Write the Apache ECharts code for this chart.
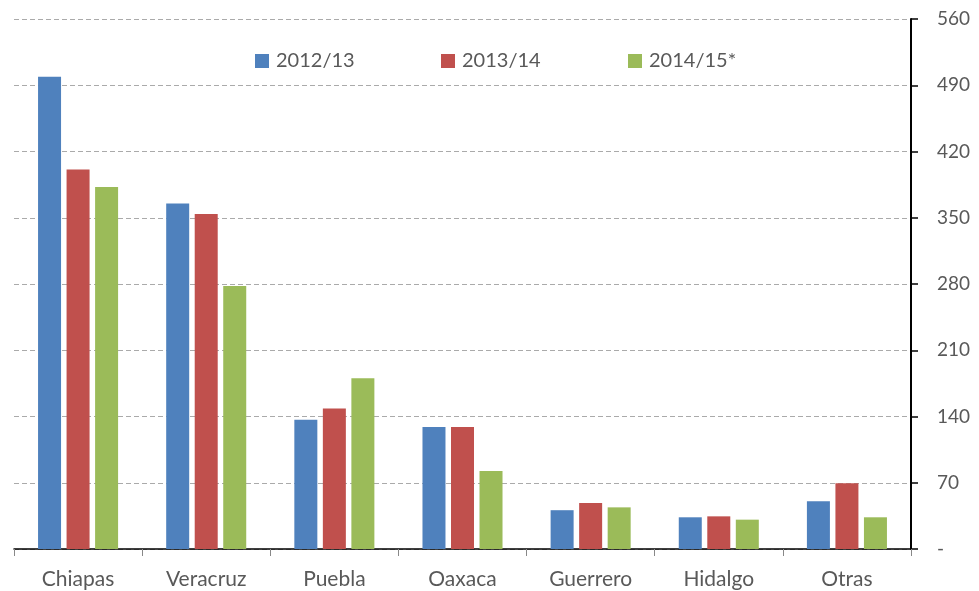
<!DOCTYPE html>
<html>
<head>
<meta charset="utf-8">
<script src="https://cdn.jsdelivr.net/npm/echarts@6/dist/echarts.min.js"></script>
<style>
html,body{margin:0;padding:0;background:#fff;}
#c{width:979px;height:591px;}
</style>
</head>
<body>
<div id="c"></div>
<script>
const categories = ['Chiapas','Veracruz','Puebla','Oaxaca','Guerrero','Hidalgo','Otras'];
const seriesNames = ['2012/13','2013/14','2014/15*'];
const s2012 = [499, 365, 136.5, 129, 41, 33.5, 50.5];
const s2013 = [401, 354, 148.5, 129, 48.5, 34.5, 69.5];
const s2014 = [382.5, 278, 180.5, 82.5, 44, 31, 33.5];
const yTicks = [0, 70, 140, 210, 280, 350, 420, 490, 560];
const colors = ['#4F81BD','#C0504D','#9BBB59'];

const font = 'Lato, "Open Sans", sans-serif';
const chart = echarts.init(document.getElementById('c'));
const legendLefts = [255, 441, 628];
chart.setOption({
  animation: false,
  grid: {left: 14, right: 68, top: 19, bottom: 42, containLabel: false},
  legend: seriesNames.map((n, i) => ({
    data: [n], left: legendLefts[i], top: 51, padding: 0, itemWidth: 14, itemHeight: 14,
    icon: 'rect', itemGap: 6,
    textStyle: {fontFamily: font, fontSize: 20, color: '#595959', padding: [0,0,0,2]}
  })),
  xAxis: {
    type: 'category', data: categories, boundaryGap: true,
    axisLine: {lineStyle: {color: '#000', width: 1.5}},
    axisTick: {show: true, length: 7, lineStyle: {color: '#888'}},
    axisLabel: {fontFamily: font, fontSize: 21, color: '#595959', margin: 20}
  },
  yAxis: {
    type: 'value', position: 'right', min: 0, max: 560, interval: 70,
    axisLine: {show: true, lineStyle: {color: '#000', width: 2}},
    axisTick: {show: true, length: 7, lineStyle: {color: '#000', width: 1.5}},
    axisLabel: {fontFamily: font, fontSize: 19, color: '#595959', margin: 26,
      formatter: v => (v === 0 ? '-' : String(v))},
    splitLine: {show: true, lineStyle: {color: '#aaa', type: [5, 3], width: 1}}
  },
  series: [s2012, s2013, s2014].map((d, i) => ({
    name: seriesNames[i], type: 'bar', data: d,
    barWidth: 23, barGap: '24%', barCategoryGap: '37.5%',
    itemStyle: {color: colors[i]}
  }))
});
</script>
</body>
</html>
